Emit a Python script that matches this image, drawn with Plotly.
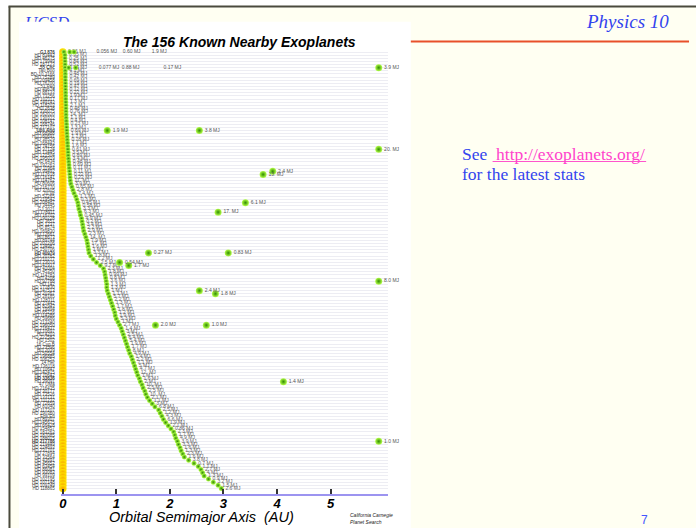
import plotly.graph_objects as go

W, H = 696, 528

# ---------------- data ----------------
# innermost planet of each star (AU), one row per star, top to bottom
a_inner = [
    0.021, 0.038, 0.039, 0.041, 0.042, 0.043, 0.045, 0.046, 0.046, 0.047,
    0.048, 0.049, 0.050, 0.051, 0.052, 0.053, 0.055, 0.057, 0.058, 0.059,
    0.060, 0.062, 0.065, 0.068, 0.070, 0.073, 0.076, 0.080, 0.083, 0.087,
    0.090, 0.094, 0.098, 0.100, 0.105, 0.110, 0.115, 0.120, 0.125, 0.130,
    0.135, 0.140, 0.150, 0.170, 0.190, 0.210, 0.240, 0.260, 0.280, 0.290,
    0.300, 0.320, 0.330, 0.350, 0.360, 0.370, 0.380, 0.390, 0.410, 0.430,
    0.450, 0.460, 0.470, 0.480, 0.490, 0.520, 0.570, 0.630, 0.700, 0.760,
    0.780, 0.790, 0.800, 0.810, 0.820, 0.820, 0.830, 0.850, 0.870, 0.890,
    0.910, 0.930, 0.950, 0.970, 0.980, 1.000, 1.030, 1.060, 1.090, 1.110,
    1.130, 1.150, 1.170, 1.190, 1.210, 1.230, 1.250, 1.280, 1.300, 1.320,
    1.340, 1.360, 1.380, 1.400, 1.430, 1.450, 1.480, 1.500, 1.530, 1.550,
    1.580, 1.620, 1.670, 1.720, 1.790, 1.820, 1.850, 1.880, 1.920, 1.970,
    2.020, 2.070, 2.090, 2.110, 2.140, 2.160, 2.190, 2.210, 2.240, 2.270,
    2.350, 2.450, 2.530, 2.580, 2.610, 2.640, 2.720, 2.810, 2.900, 2.960,
]

m_inner = [
    0.56, 0.35, 0.25, 0.84, 0.52, 0.84, 4.1, 0.48, 0.42, 0.69,
    0.19, 0.47, 0.12, 0.22, 1.9, 0.17, 1.3, 2.1, 0.48, 0.76,
    14., 1.1, 0.40, 0.23, 1.3, 0.69, 1.9, 1.7, 0.78, 7.7,
    1.6, 0.61, 3.5, 0.89, 3.4, 0.48, 0.69, 0.11, 0.11, 0.22,
    0.22, 11., 3.9, 0.65, 2.8, 7.4, 1.1, 0.30, 0.45, 0.58,
    3.3, 6.3, 0.45, 4.9, 0.20, 3.4, 2.2, 2.9, 2.3, 14.,
    7.9, 17., 1.6, 1.0, 3.3, 1.8, 1.2, 2.5, 9.7, 2.3,
    1.8, 0.99, 0.80, 3.6, 1.3, 1.3, 1.0, 1.1, 5.7, 2.2,
    1.3, 1.7, 1.8, 1.2, 1.9, 5.3, 1.0, 2.7, 1.4, 3.0,
    2.5, 6.4, 5.4, 1.9, 1.7, 8.0, 4.9, 1.4, 2.2, 7.1,
    5.0, 4.7, 12., 1.0, 1.6, 2.0, 10., 2.5, 2.5, 10.,
    2.1, 1.1, 3.0, 6.8, 2.5, 1.2, 4.3, 6.6, 1.9, 2.1,
    0.86, 2.3, 1.7, 4.9, 3.9, 3.3, 1.6, 1.3, 2.3, 1.6,
    3.8, 0.7, 1.1, 2.7, 4.0, 1.3, 0.9, 3.2, 1.5, 2.6,
]

star_names = [
    "GJ 876", "HD 83443", "HD 46375", "HD 179949", "HD 187123", "55 Cnc", "Tau Boo", "BD-10 3166", "HD 75289", "HD 209458",
    "HD 76700", "51 Peg", "HD 49674", "HD 88133", "HD 73256", "HD 102117", "HD 149143", "HD 118203", "HD 2638", "HD 330075",
    "HD 162020", "HD 130322", "HD 108147", "HD 168746", "HD 217107", "Ups And", "HD 68988", "HD 160691", "HD 38529", "HD 168443",
    "HD 74156", "HD 37124", "HD 13445", "HD 121504", "HD 195019", "HD 6434", "HD 192263", "HD 11964", "HD 99492", "HD 117618",
    "HD 16141", "HD 114762", "HD 80606", "HD 216770", "HD 37605", "70 Vir", "HD 52265", "HD 219542", "HD 208487", "HD 34445",
    "GJ 3021", "HD 178911", "HD 16702", "HD 190228", "HD 3651", "HD 1237", "HD 8574", "HD 169830", "HD 12661", "HD 8673",
    "HD 89744", "HD 202206", "HD 134987", "HD 150706", "HD 40979", "HD 20782", "HD 210277", "HD 23079", "HD 141937", "HD 41004",
    "HD 45350", "HD 114783", "HD 4208", "HD 92788", "HD 142", "HD 177830", "HD 147513", "HD 20367", "HD 28185", "HD 128311",
    "HD 27442", "HD 82943", "HD 19994", "HD 65216", "HD 114386", "HD 59686", "HD 213240", "HD 196050", "HD 216437", "HD 10697",
    "HD 4203", "HD 222582", "HD 1502", "16 Cyg B", "HD 23596", "HD 2039", "HD 50554", "HD 196885", "HD 106252", "14 Her",
    "HD 136118", "HD 10647", "HD 142415", "HD 70642", "HD 33636", "HD 39091", "47 UMa", "HD 216435", "HD 30177", "HD 73526",
    "HD 133131", "HD 111232", "HD 72659", "HD 81040", "HD 117207", "HD 190360", "Eps Eri", "HD 89307", "HD 145675", "HD 66428",
    "HD 154857", "HD 183263", "HD 187085", "HD 188015", "HD 217786", "HD 219449", "HD 224693", "HD 231701", "HD 27894", "HD 33564",
    "HD 43691", "HD 45652", "HD 63454", "HD 86081", "HD 93083", "HD 99109", "HD 102195", "HD 107148", "HD 109749", "HD 118865",
]
bold_rows = [1, 6, 26, 65, 105, 125]

# additional close-in planets in the top multi-planet systems
extra_row = [1, 1, 6, 6]
extra_a = [0.13, 0.21, 0.11, 0.24]

# outer planets of multi-planet systems (row, AU, mass label)
outer_row = [6, 26, 26, 32, 39, 40, 49, 52, 65, 65, 68, 69, 74, 77, 78, 88, 88, 106, 125]
outer_a = [5.90, 0.83, 2.55, 5.90, 3.92, 3.74, 3.41, 2.90, 1.60, 3.09, 1.06, 1.23, 5.90, 2.55, 2.85, 2.68, 1.73, 4.12, 5.90]
outer_m = ["3.9", "1.9", "3.8", "20.", "2.4", "13.", "6.1", "17.", "0.27", "0.83", "0.54", "1.7",
           "8.0", "2.4", "1.8", "1.0", "2.0", "1.4", "1.0"]
arrow_rows = [32, 74, 125]

# mass labels of the close-in planets, written along the top rows
top_label_row = [1, 1, 1, 6, 6, 6]
top_label_a = [0.63, 1.12, 1.66, 0.67, 1.10, 1.88]
top_label_txt = ["0.056 MJ", "0.60 MJ", "1.9 MJ", "0.077 MJ", "0.88 MJ", "0.17 MJ"]

x_ticks = [0, 1, 2, 3, 4, 5]

# ---------------- geometry helpers ----------------
def px(x):
    return x / W

def py(y):
    return 1 - y / H

N = len(a_inner)
rows = list(range(1, N + 1))
AU_PX = 53.7          # pixels per AU
X0 = 61               # pixel of a = 0
ROW0, ROW_PX = 52, 3.14

def mlabel(m):
    return (f"{m:.0f}." if m >= 10 else f"{m:.2g}") + " MJ"

fig = go.Figure()

star_a = [0.0 for _ in rows]
fig.add_trace(go.Scatter(
    x=star_a, y=rows, mode="markers", cliponaxis=False, hoverinfo="skip",
    marker=dict(size=7.5, color="#ffe600", gradient=dict(type="radial", color="#f5a000"),
                line=dict(width=0)),
))

green = dict(color="#b4ff4a", gradient=dict(type="radial", color="#2f8a00"), line=dict(width=0))

fig.add_trace(go.Scatter(
    x=a_inner, y=rows, mode="markers+text", cliponaxis=False,
    text=[mlabel(m) for m in m_inner], textposition="middle right",
    textfont=dict(size=5, color="#666666", family="Liberation Sans"),
    marker=dict(size=5, **green),
))
fig.add_trace(go.Scatter(
    x=extra_a, y=extra_row, mode="markers", cliponaxis=False,
    marker=dict(size=5, **green),
))
fig.add_trace(go.Scatter(
    x=outer_a, y=outer_row, mode="markers+text", cliponaxis=False,
    text=[t + " MJ" for t in outer_m], textposition="middle right",
    textfont=dict(size=5, color="#555555", family="Liberation Sans"),
    marker=dict(size=7, **green),
))
fig.add_trace(go.Scatter(
    x=top_label_a, y=top_label_row, mode="text", cliponaxis=False,
    text=top_label_txt, textposition="middle right",
    textfont=dict(size=5, color="#555555", family="Liberation Sans"),
))
fig.add_trace(go.Scatter(
    x=[(405 - X0) / AU_PX for _ in arrow_rows], y=arrow_rows, mode="text", cliponaxis=False,
    text=["⟹" for _ in arrow_rows], textposition="middle center",
    textfont=dict(size=8, color="#555555", family="DejaVu Sans"),
))

# partially hidden "UCSD" header (clipped by the chart picture)
fig.add_trace(go.Scatter(
    x=[23], y=[-23.5], mode="text", text=["UCSD"], textposition="middle right",
    cliponaxis=True, xaxis="x2", yaxis="y2", hoverinfo="skip",
    textfont=dict(size=17, color="#3344ee", family="Liberation Serif", style="italic"),
))

ticktext = [f"<b>{n}</b>" if i + 1 in bold_rows else n for i, n in enumerate(star_names)]

x_left, x_right = 59, 387
y_top, y_bot = 46, 494
fig.update_layout(
    width=W, height=H, margin=dict(l=0, r=0, t=0, b=0),
    paper_bgcolor="white", plot_bgcolor="rgba(0,0,0,0)", showlegend=False,
    xaxis=dict(
        domain=[px(x_left), px(x_right)],
        range=[(x_left - X0) / AU_PX, (x_right - X0) / AU_PX],
        tickvals=x_ticks, ticktext=[str(t) for t in x_ticks],
        ticks="inside", ticklen=5, tickwidth=2, tickcolor="#333333",
        tickfont=dict(size=13, color="black", family="Liberation Sans", weight="bold", style="italic"),
        ticklabelstandoff=-4,
        showline=True, linecolor="#9c94f0", linewidth=2,
        showgrid=False, zeroline=False, anchor="y",
    ),
    yaxis=dict(
        domain=[py(y_bot), py(y_top)],
        range=[1 + (y_bot - ROW0) / ROW_PX, 1 + (y_top - ROW0) / ROW_PX],
        tickvals=rows, ticktext=ticktext, ticks="",
        tickfont=dict(size=4.5, color="#444444", family="Liberation Sans"),
        ticklabelstandoff=5,
        showgrid=True, gridcolor="#ededf3", gridwidth=1,
        showline=False, zeroline=False, anchor="x",
    ),
    xaxis2=dict(domain=[px(8), px(410)], range=[8, 410], visible=False, anchor="y2"),
    yaxis2=dict(domain=[py(21.7), py(8)], range=[-21.7, -8], visible=False, anchor="x2"),
)

shapes = [
    dict(type="rect", xref="paper", yref="paper", x0=px(8), x1=1, y0=0, y1=py(7.5),
         fillcolor="#fffff2", line=dict(width=0), layer="below"),
    dict(type="rect", xref="paper", yref="paper", x0=px(17), x1=px(410), y0=0, y1=py(21.7),
         fillcolor="white", line=dict(width=0), layer="below"),
    dict(type="line", xref="paper", yref="paper", x0=px(6.5), x1=1, y0=py(6.5), y1=py(6.5),
         line=dict(color="#4a4a3c", width=2)),
    dict(type="line", xref="paper", yref="paper", x0=px(7.5), x1=px(7.5), y0=0, y1=py(6.5),
         line=dict(color="#4a4a3c", width=2)),
    dict(type="line", xref="paper", yref="paper", x0=px(410), x1=px(689), y0=py(41.5), y1=py(41.5),
         line=dict(color="#e8502a", width=2)),
    dict(type="line", xref="paper", yref="paper", x0=px(492), x1=px(646), y0=py(161.5), y1=py(161.5),
         line=dict(color="#ff55cc", width=1.2)),
]
fig.update_layout(shapes=shapes)

ann = [
    dict(text="The 156 Known Nearby Exoplanets", x=px(238), y=py(42),
         font=dict(size=14, color="black", family="Liberation Sans",
                   weight="bold", style="italic")),
    dict(text="Orbital Semimajor Axis  (AU)", x=px(200), y=py(517),
         font=dict(size=14.5, color="black", family="Liberation Sans", style="italic")),
    dict(text="California Carnegie<br>Planet Search", x=px(347), y=py(518), xanchor="left", align="left",
         font=dict(size=5, color="#222222", family="Liberation Sans", style="italic")),
    dict(text="Physics 10", x=px(627), y=py(22),
         font=dict(size=19, color="#3344ee", family="Liberation Serif", style="italic")),
    dict(text="See <span style='color:#ff44cc'> http://exoplanets.org/</span>",
         x=px(459), y=py(154), xanchor="left", align="left",
         font=dict(size=17.5, color="#3344ee", family="Liberation Serif")),
    dict(text="for the latest stats",
         x=px(459), y=py(174), xanchor="left", align="left",
         font=dict(size=17.5, color="#3344ee", family="Liberation Serif")),
    dict(text="7", x=px(644), y=py(520),
         font=dict(size=12, color="#4455ff", family="Liberation Sans")),
]
for a in ann:
    a.update(xref="paper", yref="paper", showarrow=False)
    a.setdefault("xanchor", "center")
    a.setdefault("yanchor", "middle")
fig.update_layout(annotations=ann)

fig.write_html("out.html", config={"displayModeBar": False},
               post_script="document.body.style.margin='0px';document.body.style.overflow='hidden';")
